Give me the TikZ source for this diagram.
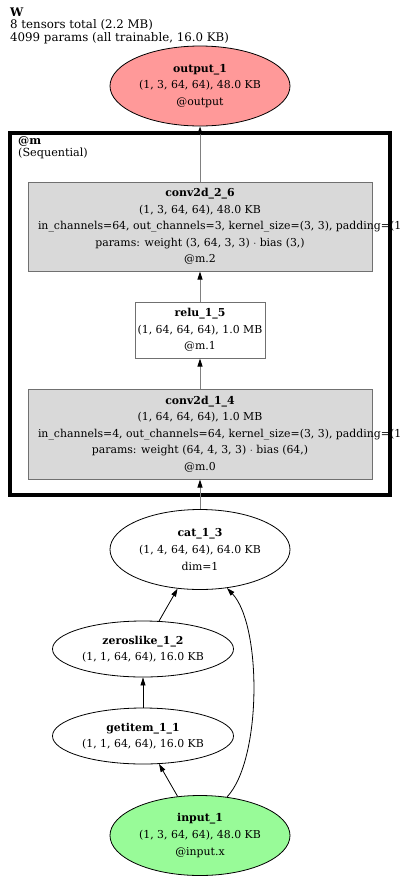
\documentclass[tikz,border=0pt]{standalone}
\usepackage{fontspec}
\setmainfont{DejaVu Serif}
\usetikzlibrary{shapes.geometric,arrows.meta}
\definecolor{outfill}{HTML}{FF9999}
\definecolor{infill}{HTML}{98FB98}
\definecolor{boxfill}{HTML}{D9D9D9}
\definecolor{boxline}{HTML}{707070}
\definecolor{edgegray}{HTML}{808080}
\begin{document}
\begin{tikzpicture}[x=1pt,y=-1pt,
  lbl/.style={font=\fontsize{10.9}{16.6}\selectfont, align=center},
  ell/.style={ellipse, draw=black, line width=0.8pt, inner sep=0pt, lbl},
  bigell/.style={ell, minimum width=180pt, minimum height=80pt},
  smallell/.style={ell, minimum width=181pt, minimum height=56pt},
  modbox/.style={rectangle, draw=boxline, line width=1pt, inner sep=0pt, lbl},
  edge/.style={draw=black, line width=0.8pt, -{Triangle[length=8pt,width=5pt]}},
  gedge/.style={draw=edgegray, line width=1pt, -{Triangle[length=8pt,width=5pt,color=black]}},
  cluster/.style={draw=black, line width=4.5pt},
  note/.style={anchor=north west, align=left, inner sep=0pt}]
\useasboundingbox (0,0) rectangle (400,879);
\fill[white] (0,0) rectangle (400,879);

% header
\node[note, font=\fontsize{11.8}{12.6}\selectfont] (hdr) at (10,7.5)
  {\textbf{W}\\8 tensors total (2.2 MB)\\4099 params (all trainable, 16.0 KB)};

% cluster
\draw[cluster] (10,133) rectangle (390,495);
\node[note, font=\fontsize{11.2}{12.8}\selectfont] (clbl) at (18,136)
  {\textbf{@m}\\(Sequential)};

% nodes
\node[bigell, fill=outfill] (out) at (200,86) {\textbf{output\_1}\\(1, 3, 64, 64), 48.0 KB\\@output};

\node[modbox, fill=boxfill, minimum width=344pt, minimum height=89pt] (c26) at (200,226.5)
  {\textbf{conv2d\_2\_6}\\(1, 3, 64, 64), 48.0 KB\\
   \makebox[324pt][l]{in\_channels=64, out\_channels=3, kernel\_size=(3, 3), padding=(1}\\
   params: weight (3, 64, 3, 3) $\cdot$ bias (3,)\\@m.2};

\node[modbox, fill=white, minimum width=130pt, minimum height=56pt] (r15) at (200,330)
  {\textbf{relu\_1\_5}\\(1, 64, 64, 64), 1.0 MB\\@m.1};

\node[modbox, fill=boxfill, minimum width=344pt, minimum height=90pt] (c14) at (200,434)
  {\textbf{conv2d\_1\_4}\\(1, 64, 64, 64), 1.0 MB\\
   \makebox[324pt][l]{in\_channels=4, out\_channels=64, kernel\_size=(3, 3), padding=(1}\\
   params: weight (64, 4, 3, 3) $\cdot$ bias (64,)\\@m.0};

\node[bigell, fill=white] (cat) at (200,549.5) {\textbf{cat\_1\_3}\\(1, 4, 64, 64), 64.0 KB\\dim=1};
\node[smallell, fill=white] (zl) at (143,649) {\textbf{zeroslike\_1\_2}\\(1, 1, 64, 64), 16.0 KB};
\node[smallell, fill=white] (gi) at (143,736) {\textbf{getitem\_1\_1}\\(1, 1, 64, 64), 16.0 KB};
\node[bigell, fill=infill] (in) at (200,835.5) {\textbf{input\_1}\\(1, 3, 64, 64), 48.0 KB\\@input.x};

% edges
\draw[gedge] (c26.north) -- (out.south);
\draw[gedge] (r15.north) -- (c26.south);
\draw[gedge] (c14.north) -- (r15.south);
\draw[gedge] (cat.north) -- (c14.south);
\draw[edge] (zl) -- (cat);
\draw[edge] (gi) -- (zl);
\draw[edge] (in) -- (gi);
\draw[edge] (in.55) .. controls (262,760) and (262,625) .. (cat.-55);
\end{tikzpicture}
\end{document}
